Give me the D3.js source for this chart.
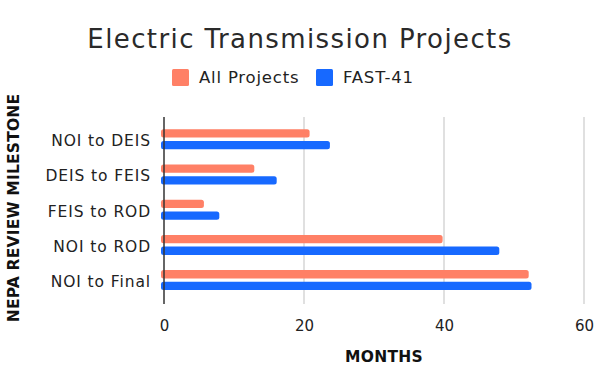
<!DOCTYPE html>
<html><head><meta charset="utf-8">
<script src="https://cdn.jsdelivr.net/npm/d3@7"></script>
<style>body{margin:0;background:#fff}svg{display:block}</style>
</head><body>
<svg id="c" width="600" height="385"></svg>
<script>
const categories = ["NOI to DEIS","DEIS to FEIS","FEIS to ROD","NOI to ROD","NOI to Final"];
const allProjects = [20.8, 12.9, 5.7, 39.8, 52.1];
const fast41 = [23.7, 16.1, 7.9, 47.9, 52.5];
const seriesNames = ["All Projects","FAST-41"];
const xTicks = [0,20,40,60];
const colors = ["#FF8066","#1769FF"];

const svg = d3.select("#c");
const font = "'DejaVu Sans', sans-serif";
const x = d3.scaleLinear().domain([0,60]).range([164,584]);
const y = d3.scaleBand().domain(categories).range([121.7,297.7]).paddingInner(0).paddingOuter(0);
const barH = 8.3, gap = 3.4;

svg.append("g").selectAll("line").data(xTicks.filter(d=>d>0)).join("line")
  .attr("x1",d=>x(d)).attr("x2",d=>x(d)).attr("y1",117).attr("y2",304)
  .attr("stroke","#cccccc").attr("stroke-width",1.2);

const xa = d3.axisBottom(x).tickValues(xTicks).tickSize(0).tickPadding(0);
const gx = svg.append("g").attr("transform","translate(0,331)").call(xa);
gx.select(".domain").remove();
gx.selectAll("text").attr("font-family",font).attr("font-size",15).attr("fill","#222").attr("dy",0);

const data = categories.map((c,i)=>({c, v:[allProjects[i], fast41[i]]}));
const g = svg.append("g");
data.forEach(d=>{
  const c = y(d.c) + y.bandwidth()/2;
  d.v.forEach((v,j)=>{
    const top = j===0 ? c - gap/2 - barH : c + gap/2;
    g.append("rect").attr("x",x(0)-3).attr("y",top).attr("width",x(v)-x(0)+3).attr("height",barH)
      .attr("rx",2.5).attr("fill",colors[j]);
  });
});

svg.append("line").attr("x1",x(0)).attr("x2",x(0)).attr("y1",117).attr("y2",304)
  .attr("stroke","#333").attr("stroke-width",1.5);

const ya = d3.axisLeft(y).tickSize(0).tickPadding(0);
const gy = svg.append("g").attr("transform","translate(151,2)").call(ya);
gy.select(".domain").remove();
gy.selectAll("text").attr("font-family",font).attr("font-size",15.5).attr("letter-spacing",0.9).attr("fill","#222");

svg.append("text").attr("x",300).attr("y",48).attr("text-anchor","middle")
  .attr("font-family",font).attr("font-weight",400).attr("font-size",26).attr("letter-spacing",1.4).attr("fill","#2a2a2a").text("Electric Transmission Projects");

const leg = [{x:172, tx:199}, {x:316, tx:343}];
seriesNames.forEach((n,i)=>{
  svg.append("rect").attr("x",leg[i].x).attr("y",69).attr("width",17).attr("height",17).attr("rx",1.5).attr("fill",colors[i]);
  svg.append("text").attr("x",leg[i].tx).attr("y",83).attr("font-family",font).attr("font-size",16.5).attr("letter-spacing",0.8).attr("fill","#222").text(n);
});

svg.append("text").attr("x",384).attr("y",362).attr("text-anchor","middle")
  .attr("font-family",font).attr("font-weight","bold").attr("font-size",15.5).attr("letter-spacing",0.3).attr("fill","#111").text("MONTHS");
svg.append("text").attr("transform","translate(19,208) rotate(-90)").attr("text-anchor","middle")
  .attr("font-family",font).attr("font-weight","bold").attr("font-size",15.5).attr("letter-spacing",0.2).attr("fill","#111").text("NEPA REVIEW MILESTONE");
</script>
</body></html>
